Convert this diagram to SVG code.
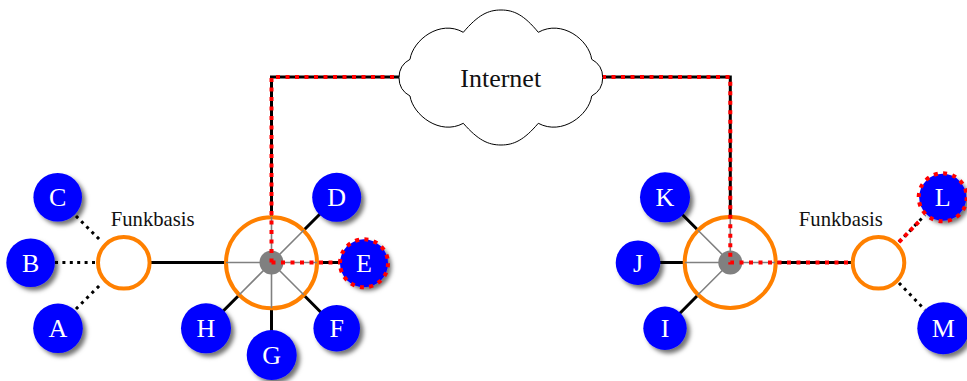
<svg xmlns="http://www.w3.org/2000/svg" width="967" height="381" viewBox="0 0 967 381">
<defs>
<filter id="sh" x="-30%" y="-30%" width="170%" height="170%"><feDropShadow dx="3.5" dy="3.5" stdDeviation="2" flood-color="#000" flood-opacity="0.55"/></filter>
</defs>
<style>
text{font-family:"Liberation Serif","Times New Roman",serif;text-anchor:middle}
.leaf circle{fill:#0000ff;filter:url(#sh)}
.leaf text{fill:#fff;font-size:26px}
.solid{stroke:#000;stroke-width:3;fill:none}
.dot{stroke:#000;stroke-width:3;fill:none;stroke-dasharray:3 4.4}
.gray{stroke:#808080;stroke-width:1.6;fill:none}
.red{stroke:#ff0000;stroke-width:4;fill:none;stroke-dasharray:4 5.5}
.ring{fill:#fff;stroke:#ff8000;stroke-width:4}
.hub{fill:#808080}
.lab{font-size:20.7px;fill:#111}
</style>
<g id="connectors">
<path class="solid" d="M271.5 262.5V77H400M602 77H730.3V262.5H852"/>
<path class="solid" d="M151 262.5H271.5M271.5 262.5L336.7 197.3M271.5 262.5H364M271.5 262.5L336.7 328.3M271.5 262.5V355M271.5 262.5L206 328.3"/>
<path class="solid" d="M730.3 262.5L665 197.3M730.3 262.5H638M730.3 262.5L665 328.3"/>
<path class="dot" d="M76 216L100 240M55 262.5H96M76 309L100 285"/>
<path class="dot" d="M899 242L925 215M899 283L925 310"/>
</g>
<g id="base-left-small"><circle class="ring" cx="123.8" cy="262.8" r="25.8"/></g>
<g id="base-left-big"><circle class="ring" cx="271.5" cy="262.8" r="45.5"/></g>
<g id="base-right-big"><circle class="ring" cx="730.2" cy="262.5" r="45.5"/></g>
<g id="base-right-small"><circle class="ring" cx="878.5" cy="262.8" r="25.8"/></g>
<g id="inner-lines">
<path class="gray" d="M226 262.5H271.5M271.5 217V262.5M271.5 262.5L303.7 230.3M271.5 262.5H317M271.5 262.5L303.7 294.7M271.5 262.5V308M271.5 262.5L239.3 294.7"/>
<path class="gray" d="M730.3 217V262.5M730.3 262.5L698 230.2M730.3 262.5H685M730.3 262.5L698 294.8M730.3 262.5H775"/>
</g>
<g id="hub-left"><circle class="hub" cx="271.5" cy="262.5" r="12"/></g>
<g id="hub-right"><circle class="hub" cx="730.3" cy="262.5" r="12"/></g>
<g id="A" class="leaf"><circle cx="58" cy="328.3" r="24.8"/><text x="58" y="337.3">A</text></g>
<g id="B" class="leaf"><circle cx="30.6" cy="262.7" r="24.3"/><text x="30.6" y="271.5">B</text></g>
<g id="C" class="leaf"><circle cx="57.7" cy="197.3" r="24.3"/><text x="57.7" y="206">C</text></g>
<g id="D" class="leaf"><circle cx="336.7" cy="197.3" r="24.5"/><text x="336.7" y="206">D</text></g>
<g id="E" class="leaf"><circle cx="364" cy="263.3" r="24"/><text x="364" y="272">E</text></g>
<g id="F" class="leaf"><circle cx="336.7" cy="328.3" r="23.3"/><text x="336.7" y="337">F</text></g>
<g id="G" class="leaf"><circle cx="271.7" cy="355" r="25"/><text x="271.7" y="364">G</text></g>
<g id="H" class="leaf"><circle cx="206" cy="328.3" r="25"/><text x="206" y="337">H</text></g>
<g id="I" class="leaf"><circle cx="665" cy="328.3" r="21.7"/><text x="665" y="337">I</text></g>
<g id="J" class="leaf"><circle cx="638" cy="262.7" r="22.3"/><text x="638" y="271.5">J</text></g>
<g id="K" class="leaf"><circle cx="665" cy="197.3" r="25"/><text x="665" y="206">K</text></g>
<g id="L" class="leaf"><circle cx="942.7" cy="197.3" r="23.5"/><text x="942.7" y="206">L</text></g>
<g id="M" class="leaf"><circle cx="943.3" cy="328.3" r="26"/><text x="943.3" y="337">M</text></g>
<g id="red-links">
<path class="red" d="M271.5 262.5V77H400"/>
<path class="red" d="M271.5 262.5H340"/>
<circle class="red" cx="364" cy="263.3" r="24" style="stroke-dasharray:4 5.4"/>
<path class="red" d="M602 77H730.3V262.5H852"/>
<path class="red" d="M899 242L921 219.5" style="stroke-dasharray:4 4"/>
<circle class="red" cx="942.7" cy="197.3" r="24" style="stroke-dasharray:4 5.4"/>
</g>
<g id="cloud">
<path fill="#fff" stroke="#000" stroke-width="1" d="M410 96A20.8 20.8 0 0 1 410 59.3C413 40 440 19 463.3 32.3C478 15 488 10 501 10C514 10 524 15 538.3 32.3C562 19 589 40 591.7 59.3A20.8 20.8 0 0 1 591.7 96C589 115 562 136 538.3 123.3C524 140 514 145 501 145C488 145 478 140 463.3 123.3C440 136 413 115 410 96Z"/>
<text x="500.7" y="87" style="font-size:26px;fill:#111">Internet</text>
</g>
<g id="label-left"><text class="lab" x="152.7" y="225.5">Funkbasis</text></g>
<g id="label-right"><text class="lab" x="840.8" y="225.5">Funkbasis</text></g>
</svg>
